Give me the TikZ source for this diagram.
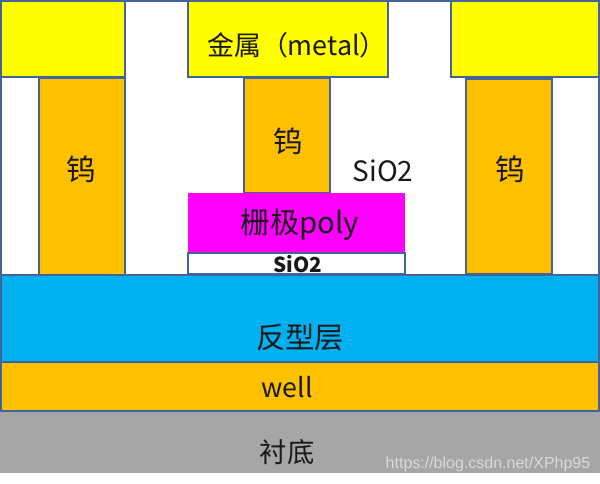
\documentclass[tikz,border=0pt]{standalone}
\usepackage{fontspec}
\setmainfont{Noto Sans CJK SC}
\newfontfamily\markfont{Liberation Sans}
\definecolor{edgeblue}{HTML}{41659A}
\definecolor{metalyellow}{HTML}{FFFF00}
\definecolor{plugorange}{HTML}{FFC000}
\definecolor{layerblue}{HTML}{00B0F0}
\definecolor{polypink}{HTML}{FF00FF}
\definecolor{bulkgray}{HTML}{A6A6A6}
\begin{document}
\begin{tikzpicture}[
        x=0.75pt,
        y=-0.75pt,
        layer/.style={draw=edgeblue, line width=1.1pt},
        label/.style={inner sep=0pt, text=black!90, font=\fontsize{22}{26}\selectfont}
    ]
    \useasboundingbox (0,0) rectangle (600,483);

    % Oxide frame
    \draw[layer, fill=white] (1,1) rectangle (599,275);

    % Metal
    \draw[layer, fill=metalyellow] (1,1) rectangle (125,77);
    \draw[layer, fill=metalyellow] (188,1) rectangle (388,77);
    \draw[layer, fill=metalyellow] (451,1) rectangle (599,77);
    \node[label, font=\fontsize{20.2}{24}\selectfont] (metal) at (297,45) {金属（metal）};

    % Plugs
    \draw[layer, fill=plugorange] (39,78) rectangle (125,275);
    \draw[layer, fill=plugorange] (244,78) rectangle (330,193);
    \draw[layer, fill=plugorange] (466,79) rectangle (552,274);
    \node[label] (plugl) at (81,169) {钨};
    \node[label] (plugm) at (288,141) {钨};
    \node[label] (plugr) at (510,169) {钨};
    \node[label, font=\fontsize{21}{25}\selectfont] (oxide) at (383,171) {SiO2};

    % Gate
    \fill[polypink] (188,193) rectangle (405,253);
    \draw[layer, fill=white] (188,253) rectangle (405,274);
    \node[label] (poly) at (300,225) {栅极poly};
    \node[label, font=\fontsize{15.5}{18}\selectfont\bfseries] (gateoxide) at (298,264) {SiO2};

    % Lower layers
    \fill[bulkgray] (0,412) rectangle (600,473);
    \draw[layer, fill=layerblue] (1,275) rectangle (599,362);
    \draw[layer, fill=plugorange] (1,362) rectangle (599,411);
    \node[label] (channel) at (300,338) {反型层};
    \node[label, font=\fontsize{20}{24}\selectfont] (well) at (287,387) {well};
    \node[label, font=\fontsize{20.5}{25}\selectfont] (bulk) at (287,452) {衬底};

    % Watermark
    \node[inner sep=0pt, text=white!85!black, font=\markfont\fontsize{12}{14}\selectfont] (mark) at (488,464) {https://blog.csdn.net/XPhp95};

    \end{tikzpicture}
\end{document}
